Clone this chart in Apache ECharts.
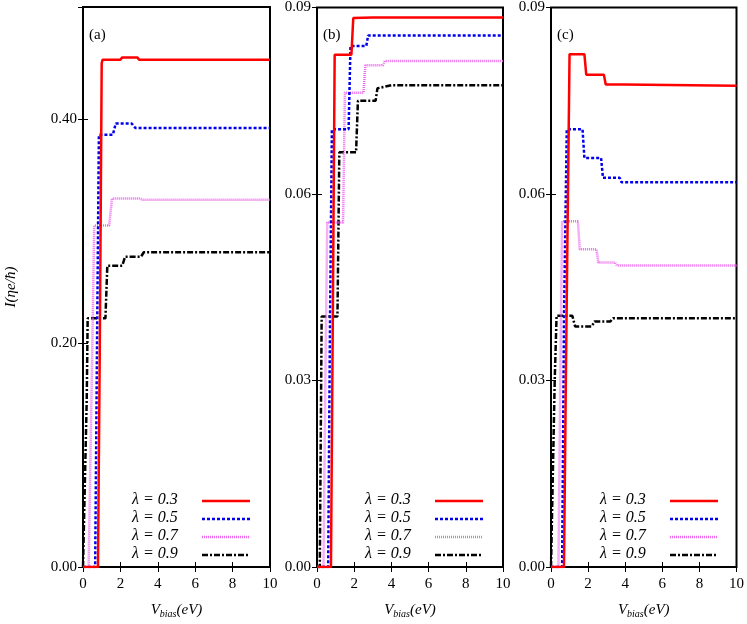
<!DOCTYPE html>
<html><head><meta charset="utf-8">
<script src="https://cdn.jsdelivr.net/npm/echarts@6/dist/echarts.min.js"></script>
<style>html,body{margin:0;padding:0;background:#fff}#c{width:747px;height:624px}</style>
</head><body><div id="c"></div>
<script>
const names = ['λ = 0.3','λ = 0.5','λ = 0.7','λ = 0.9'];
const panelLabels = ['(a)','(b)','(c)'];
const xTicks = [0,2,4,6,8,10];
const redA = [[0,0],[0.8,0],[0.9,0.2],[1.0,0.45],[1.05,0.453],[2.0,0.453],[2.1,0.455],[2.9,0.455],[3.0,0.453],[10,0.453]];
const blueA = [[0,0],[0.65,0],[0.75,0.2],[0.85,0.386],[1.6,0.386],[1.75,0.396],[2.6,0.396],[2.8,0.392],[10,0.392]];
const pinkA = [[0,0],[0.3,0],[0.5,0.2],[0.6,0.305],[1.4,0.305],[1.55,0.329],[3,0.329],[3.2,0.328],[10,0.328]];
const blackA = [[0,0],[0.1,0],[0.2,0.15],[0.25,0.222],[1.2,0.222],[1.3,0.269],[2.1,0.269],[2.25,0.277],[3.1,0.277],[3.25,0.281],[10,0.281]];
const redB = [[0,0],[0.75,0],[0.85,0.04],[0.95,0.0824],[1.85,0.0824],[1.95,0.0883],[3,0.0884],[10,0.0884]];
const blueB = [[0,0],[0.6,0],[0.7,0.04],[0.8,0.0704],[1.7,0.0704],[1.8,0.0838],[2.65,0.0838],[2.75,0.0855],[10,0.0855]];
const pinkB = [[0,0],[0.35,0],[0.45,0.03],[0.55,0.0554],[1.4,0.0554],[1.5,0.0763],[2.5,0.0763],[2.6,0.0807],[3.55,0.0807],[3.65,0.0814],[10,0.0814]];
const blackB = [[0,0],[0.15,0],[0.25,0.0403],[1.1,0.0403],[1.2,0.0667],[2.1,0.0667],[2.2,0.075],[3.15,0.075],[3.25,0.077],[4,0.0775],[10,0.0775]];
const redC = [[0,0],[0.7,0],[0.8,0.03],[1.0,0.0825],[1.8,0.0825],[1.9,0.0792],[2.85,0.0792],[2.95,0.0776],[3.9,0.0776],[4,0.0774],[10,0.0774]];
const blueC = [[0,0],[0.6,0],[0.7,0.04],[0.85,0.0704],[1.7,0.0704],[1.8,0.0658],[2.7,0.0658],[2.8,0.0626],[3.7,0.0626],[3.8,0.0619],[10,0.0619]];
const pinkC = [[0,0],[0.4,0],[0.5,0.03],[0.6,0.0556],[1.45,0.0556],[1.55,0.0511],[2.45,0.0511],[2.55,0.049],[3.45,0.049],[3.55,0.0485],[10,0.0485]];
const blackC = [[0,0],[0.1,0],[0.2,0.03],[0.3,0.0404],[1.15,0.0404],[1.3,0.0387],[2.2,0.0387],[2.35,0.0395],[3.2,0.0395],[3.35,0.04],[10,0.04]];
const panels = [[redA,blueA,pinkA,blackA],[redB,blueB,pinkB,blackB],[redC,blueC,pinkC,blackC]];
const yCfg = [{max:0.5,interval:0.2},{max:0.09,interval:0.03},{max:0.09,interval:0.03}];

const F = '"Liberation Serif","DejaVu Serif",serif';
const lefts = [83,317,551], widths = [187,186,187];
const colors = ['#ff0000','#0000ee','#ee66ee','#000000'];
const lineTypes = ['solid',[3,2],[1,1],[6,2,2,2]];
const grids=[], xAxes=[], yAxes=[], series=[], graphics=[];
panels.forEach((p,i)=>{
  grids.push({left:lefts[i],width:widths[i],top:7,bottom:54,show:true,borderColor:'#000',borderWidth:2});
  xAxes.push({type:'value',gridIndex:i,min:0,max:10,interval:2,position:'bottom',
    axisLine:{show:false},axisTick:{inside:true,length:5,lineStyle:{color:'#000'}},splitLine:{show:false},
    axisLabel:{fontFamily:F,fontSize:15,color:'#000',margin:10},
    name:'{v|V}{s|bias}{v|(eV)}',nameLocation:'middle',nameGap:34,
    nameTextStyle:{rich:{v:{fontFamily:F,fontStyle:'italic',fontSize:15,color:'#000'},s:{fontFamily:F,fontStyle:'italic',fontSize:10,color:'#000',verticalAlign:'bottom',padding:[8,0,0,0]}}}});
  xAxes.push({type:'value',gridIndex:i,min:0,max:10,interval:2,position:'top',
    axisLine:{show:false},axisTick:{inside:true,length:5,lineStyle:{color:'#000'}},axisLabel:{show:false},splitLine:{show:false}});
  yAxes.push({type:'value',gridIndex:i,min:0,max:yCfg[i].max,interval:yCfg[i].interval,position:'left',
    axisLine:{show:false},axisTick:{inside:true,length:5,lineStyle:{color:'#000'}},splitLine:{show:false},
    axisLabel:{fontFamily:F,fontSize:15,color:'#000',margin:6,showMaxLabel:i>0,formatter:v=>v.toFixed(2)},
    name:i===0?'I(ηe/ħ)':'',nameLocation:'middle',nameGap:64,nameRotate:90,
    nameTextStyle:{fontFamily:F,fontStyle:'italic',fontSize:15,color:'#000'}});
  yAxes.push({type:'value',gridIndex:i,min:0,max:yCfg[i].max,interval:yCfg[i].interval,position:'right',
    axisLine:{show:false},axisTick:{inside:true,length:5,lineStyle:{color:'#000'}},axisLabel:{show:false},splitLine:{show:false}});
  p.forEach((d,k)=>{
    series.push({type:'line',name:names[k],xAxisIndex:2*i,yAxisIndex:2*i,data:d,showSymbol:false,symbol:'none',
      lineStyle:{color:colors[k],width:2.5,type:lineTypes[k]},itemStyle:{color:colors[k]},z:10-k});
    const lx = lefts[i]+widths[i]-68, ly = 501+k*18;
    graphics.push({type:'text',left:lx-8-62,top:ly-9,z:100,style:{text:names[k],font:'italic 16px '+F,fill:'#000',align:'left'}});
    graphics.push({type:'line',z:100,shape:{x1:lx,y1:ly,x2:lx+48,y2:ly},style:{stroke:colors[k],lineWidth:2.5,lineDash:lineTypes[k]==='solid'?null:lineTypes[k]}});
  });
  graphics.push({type:'text',left:lefts[i]+6,top:28,style:{text:panelLabels[i],font:'15px '+F,fill:'#000'}});
});
const chart = echarts.init(document.getElementById('c'));
chart.setOption({animation:false,grid:grids,xAxis:xAxes,yAxis:yAxes,series:series,graphic:graphics});
</script></body></html>
